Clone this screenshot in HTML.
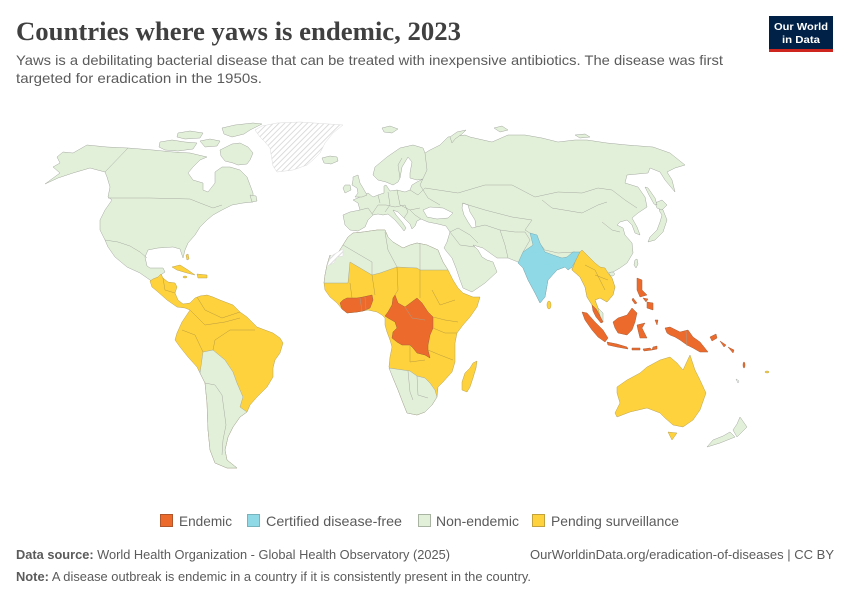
<!DOCTYPE html>
<html><head><meta charset="utf-8"><style>
html,body{margin:0;padding:0;background:#fff;}
svg{display:block;}
.g{fill:#e3f0d9;stroke:#a3a8a0;stroke-width:0.5;stroke-linejoin:round}
.y{fill:#fdd23c;stroke:#b9a25a;stroke-width:0.5;stroke-linejoin:round}
.o{fill:#ec6b2c;stroke:#a8603c;stroke-width:0.5;stroke-linejoin:round}
.b{fill:#8fd9e7;stroke:#7aa9b1;stroke-width:0.5;stroke-linejoin:round}
.w{fill:#fff;stroke:#a3a8a0;stroke-width:0.5;stroke-linejoin:round}
.l{fill:none;stroke:#9ea39b;stroke-width:0.45;stroke-linejoin:round}
.lo{fill:none;stroke:#b39442;stroke-width:0.45}
.h{fill:url(#hatch);stroke:#dcdcdc;stroke-width:0.5}
</style></head><body>
<svg width="850" height="600" viewBox="0 0 850 600" xmlns="http://www.w3.org/2000/svg">
<defs>
<pattern id="hatch" patternUnits="userSpaceOnUse" width="4" height="4" patternTransform="rotate(45)">
<rect width="4" height="4" fill="#fff"/><line x1="0" y1="0" x2="0" y2="4" stroke="#d4d4d4" stroke-width="1.6"/>
</pattern>
</defs>

<!-- Header -->
<text x="16" y="40" font-family="Liberation Serif, serif" font-weight="700" font-size="26" fill="#404040" textLength="445" lengthAdjust="spacingAndGlyphs">Countries where yaws is endemic, 2023</text>
<text x="16" y="65" font-family="Liberation Sans, sans-serif" font-size="14" fill="#5b5b5b" textLength="707" lengthAdjust="spacingAndGlyphs">Yaws is a debilitating bacterial disease that can be treated with inexpensive antibiotics. The disease was first</text>
<text x="16" y="83" font-family="Liberation Sans, sans-serif" font-size="14" fill="#5b5b5b" textLength="246" lengthAdjust="spacingAndGlyphs">targeted for eradication in the 1950s.</text>

<!-- Logo -->
<rect x="769" y="16" width="64" height="36" fill="#002147"/>
<rect x="769" y="49" width="64" height="3" fill="#ce261e"/>
<text x="801" y="30" text-anchor="middle" font-family="Liberation Sans, sans-serif" font-weight="700" font-size="10.5" fill="#fff" textLength="54" lengthAdjust="spacingAndGlyphs">Our World</text>
<text x="801" y="43" text-anchor="middle" font-family="Liberation Sans, sans-serif" font-weight="700" font-size="10.5" fill="#fff" textLength="38" lengthAdjust="spacingAndGlyphs">in Data</text>

<!-- MAP -->
<!-- North America -->
<polygon class="g" points="45,184 58,178 73,173 90,168 105,172 107,177 110,187 108,197 112,200 105,210 100,220 100,230 105,240 108,247 115,257 127,267 140,273 150,280 153,281 158,277 162,274 165,272 163,268 158,268 150,268 147,266 145,257 148,250 158,248 173,247 180,249 183,258 185,250 188,243 195,235 200,227 207,220 213,215 222,210 232,205 243,203 253,202 253,193 250,185 247,177 240,170 230,167 222,167 215,172 215,183 208,192 203,190 203,183 193,180 188,173 193,167 200,160 207,157 190,153 173,152 153,150 128,148 107,147 87,145 73,153 63,152 57,157 60,163 53,167 60,173"/>
<polygon class="g" points="220,150 232,144 240,143 248,147 253,153 250,160 247,164 238,165 233,163 225,161 221,156"/>
<polygon class="g" points="222,128 235,125 253,123 262,124 250,130 244,134 232,137 224,134"/>
<polygon class="g" points="178,133 190,131 203,133 200,138 185,139 177,137"/>
<polygon class="g" points="160,142 172,140 185,142 197,143 193,149 178,151 165,150 159,147"/>
<polygon class="g" points="200,141 210,139 220,141 217,146 205,147"/>
<polygon class="g" points="250,195 256,196 257,201 252,202"/>
<polyline class="l" points="128,148 105,172"/>
<polyline class="l" points="108,198 150,198 190,199 200,203 213,208 222,205"/>
<polyline class="l" points="105,240 118,242 130,246 140,252 147,258"/>

<!-- Greenland -->
<polygon class="h" points="255,130 262,126 277,123 300,122 343,125 333,133 325,143 320,153 313,160 307,165 293,170 277,172 273,166 272,160 270,148 265,142 260,137"/>
<!-- Iceland -->
<polygon class="g" points="322,158 330,156 337,157 338,161 331,164 324,163"/>

<!-- Central & South America -->
<polygon class="y" points="150,281 153,279 158,277 161,274 163,278 168,282 175,283 177,287 175,293 178,300 183,304 190,303 195,298 200,296 207,295 213,297 220,300 233,305 240,312 247,317 257,327 265,330 273,333 280,338 283,343 280,353 275,360 273,368 273,377 267,387 257,397 250,405 247,412 240,417 233,427 228,437 225,450 227,460 237,468 227,468 215,463 210,450 208,430 207,403 205,383 200,373 197,367 188,357 180,347 175,340 177,333 182,322 190,310 185,308 177,307 167,300 158,292 152,287"/>
<polygon class="g" points="200,373 203,352 213,350 225,360 233,372 237,383 243,397 240,407 247,412 240,417 233,427 228,437 225,450 227,460 237,468 227,468 215,463 210,450 208,430 207,403 205,383"/>
<polyline class="l" points="205,383 215,385 222,395 224,410 226,425 223,440 222,455"/>
<polyline class="lo" points="197,297 205,310 222,318 240,312"/>
<polyline class="lo" points="190,310 205,325 225,322 240,318"/>
<polyline class="lo" points="182,330 195,335 203,352"/>
<polyline class="lo" points="213,350 215,340 230,330 255,330"/>
<polyline class="lo" points="163,278 165,290 175,293"/>
<!-- Caribbean -->
<polygon class="y" points="172,267 180,265 188,270 195,275 187,273 177,270"/>
<polygon class="y" points="197,274 207,275 207,278 198,278"/>
<ellipse class="y" cx="185" cy="277" rx="2" ry="1"/>
<polygon class="y" points="186,255 188,254 189,259 187,260"/>

<!-- Africa -->
<polygon class="y" points="330,255 327,265 325,275 324,283 325,290 330,297 337,303 342,309 347,313 357,312 368,310 377,312 382,315 385,318 385,325 387,332 390,340 392,347 390,357 389,367 393,378 398,390 403,403 407,413 417,415 425,412 432,405 437,397 438,387 443,382 452,372 455,362 455,353 455,343 457,333 463,325 470,317 477,307 480,297 473,297 463,293 458,288 453,280 448,270 443,262 440,255 438,250 427,245 417,243 410,245 403,248 393,242 388,237 385,230 377,230 363,232 353,233 348,237 343,245 338,253 333,258"/>
<polygon class="g" points="330,255 327,265 325,275 324,283 337,283 348,283 350,262 372,275 380,273 397,267 417,268 420,270 448,270 443,262 440,255 438,250 427,245 417,243 410,245 403,248 393,242 388,237 385,230 377,230 363,232 353,233 348,237 343,245 338,253 333,258"/>
<polygon class="h" points="331,256 338,252 343,249 343,256 337,257 334,263 327,266"/>
<polyline class="l" points="343,245 360,255 372,262 372,275"/>
<polyline class="l" points="385,232 388,250 397,267"/>
<polyline class="l" points="420,243 420,270"/>
<polygon class="g" points="389,368 410,371 417,376 425,378 430,383 435,390 437,397 432,405 425,412 417,415 407,413 403,403 398,390 393,378"/>
<polyline class="l" points="408,371 410,392 413,400"/>
<polyline class="l" points="417,376 418,395 428,398"/>
<polygon class="o" points="340,303 343,300 347,298 357,298 363,297 372,295 373,300 370,308 363,311 357,312 347,313 342,309"/>
<polygon class="o" points="395,295 398,303 405,307 417,298 422,303 428,312 433,317 433,328 430,335 428,345 428,350 430,358 425,355 417,353 413,348 410,345 402,345 397,342 392,338 393,332 397,328 395,322 388,318 385,316 388,312 392,305 393,298"/>
<polyline class="l" points="360,298 362,311"/>
<polyline class="l" points="365,297 366,310"/>
<polyline class="l" points="405,307 412,318 425,320"/>
<polyline class="lo" points="350,283 352,298"/>
<polyline class="lo" points="372,275 375,295"/>
<polyline class="lo" points="397,267 398,290 395,295"/>
<polyline class="lo" points="420,270 420,298"/>
<polyline class="lo" points="432,290 440,305 455,300"/>
<polyline class="lo" points="433,317 445,320 458,322"/>
<polyline class="lo" points="433,328 445,333 457,333"/>
<polyline class="lo" points="428,350 440,355 453,360"/>
<polyline class="lo" points="410,345 410,362 425,360"/>
<polygon class="y" points="473,363 477,361 476,368 473,378 470,387 467,392 462,390 462,382 465,373 470,368"/>

<!-- Eurasia -->
<polygon class="g" points="343,215 345,225 350,230 358,231 365,227 368,220 373,215 378,214 383,215 388,214 395,220 401,227 404,231 406,228 402,222 396,215 393,210 398,212 404,218 410,224 412,229 415,226 417,221 421,219 428,222 438,224 446,226 450,232 447,242 444,248 447,252 452,258 456,268 460,280 463,288 472,292 485,283 497,272 493,262 487,260 482,257 478,250 475,247 473,245 483,248 497,258 508,258 518,262 523,268 528,280 535,293 540,303 545,297 548,280 557,270 565,267 568,270 572,267 572,270 580,277 585,287 587,297 592,305 595,312 600,318 603,322 603,313 598,308 595,300 600,298 607,302 613,295 615,287 612,278 608,273 613,272 620,268 627,263 633,253 632,243 625,235 623,228 617,225 620,222 627,220 632,225 635,233 640,235 637,227 632,218 638,213 647,207 645,197 638,187 625,183 627,175 648,173 650,168 660,172 665,180 675,192 672,180 667,172 675,168 685,165 670,153 653,147 627,145 607,143 587,140 575,140 558,142 542,138 525,135 508,135 492,142 470,137 465,135 448,137 440,145 430,150 425,153 423,148 413,145 400,148 387,157 375,167 373,175 378,180 386,182 393,185 398,182 400,178 402,167 408,157 412,162 410,173 410,178 417,180 423,179 417,182 412,185 410,190 405,192 397,190 390,191 386,185 384,186 384,193 378,195 373,197 368,193 360,197 353,200 358,203 360,210 350,212"/>
<polygon class="w" points="423,210 430,207 443,208 453,213 448,218 437,219 427,217"/>
<polygon class="w" points="463,203 468,205 470,212 475,220 476,227 472,228 468,222 464,215 462,208"/>
<!-- Eurasia borders -->
<polyline class="l" points="425,153 427,170 420,185 428,198 440,205"/>
<polyline class="l" points="388,192 390,205 385,212"/>
<polyline class="l" points="397,190 400,205 410,210 420,208"/>
<polyline class="l" points="372,214 378,205 386,205 395,207 405,205"/>
<polyline class="l" points="360,210 368,208 373,215"/>
<polyline class="l" points="410,190 418,195 425,188"/>
<polyline class="l" points="400,178 398,165 402,158"/>
<polyline class="l" points="405,205 408,212 404,218"/>
<polyline class="l" points="410,210 415,215 421,219"/>
<polyline class="l" points="378,195 380,203"/>
<polyline class="l" points="425,188 458,193 485,185 512,185 535,197 558,192 582,193 598,188 612,190 625,200 637,208"/>
<polyline class="l" points="542,200 552,208 582,213 598,205 607,202"/>
<polyline class="l" points="462,203 485,210 512,217 532,220"/>
<polyline class="l" points="532,220 525,230 533,235 545,250 558,253 575,252"/>
<polyline class="l" points="450,232 458,228 470,235 478,243"/>
<polyline class="l" points="476,227 485,225 500,230 515,232 525,232 530,240 523,252"/>
<polyline class="l" points="500,230 505,245 508,258"/>
<polyline class="l" points="450,232 460,245 475,247"/>
<polyline class="l" points="602,222 612,230 620,232"/>
<!-- Europe islands -->
<polygon class="g" points="353,177 358,175 360,183 363,188 367,195 362,197 355,197 358,193 357,188 352,185 353,180"/>
<polygon class="g" points="345,185 350,185 351,190 345,193 343,188"/>
<polygon class="g" points="382,128 390,126 398,129 392,133 384,132"/>
<polygon class="g" points="450,137 457,132 466,130 462,134 455,139 452,143"/>
<polygon class="g" points="494,128 502,126 508,130 500,132"/>
<polygon class="g" points="575,135 585,134 590,137 580,138"/>
<!-- East Asia islands -->
<polygon class="g" points="648,242 655,240 663,232 667,220 663,210 658,205 660,212 662,215 660,222 657,230 650,237"/>
<polygon class="g" points="655,203 662,200 667,205 662,210 657,208"/>
<polygon class="g" points="645,187 648,188 655,198 657,205 654,204 649,195"/>
<polygon class="g" points="635,260 637,259 638,264 636,268 634,265"/>
<ellipse class="g" cx="612" cy="274" rx="2.5" ry="2"/>

<!-- India (blue) -->
<polygon class="b" points="530,233 533,245 523,252 518,263 523,268 528,280 535,293 540,303 545,297 548,280 557,270 565,267 568,270 572,267 575,262 580,252 573,252 567,257 562,258 553,255 545,252 540,243 537,235"/>
<ellipse class="y" cx="549" cy="305" rx="2" ry="4"/>

<!-- SE Asia -->
<polygon class="y" points="580,252 575,262 572,270 580,277 585,287 587,297 592,305 597,310 600,316 598,308 595,300 600,298 607,302 613,295 615,287 612,278 608,273 605,268 600,267 595,263 587,255 582,250"/>
<polyline class="lo" points="585,265 595,270 600,280 605,290"/>
<polyline class="lo" points="595,275 608,280"/>
<polygon class="o" points="592,305 596,309 600,316 603,322 601,323 596,317 593,311"/>

<!-- Indonesia / Philippines / PNG -->
<polygon class="o" points="582,312 587,313 595,322 603,330 608,338 605,342 598,337 592,330 585,320"/>
<polygon class="o" points="607,342 617,344 627,347 628,349 617,347 608,345"/>
<polygon class="o" points="613,322 618,318 627,315 632,308 637,313 635,322 632,330 627,335 618,333 615,328"/>
<polygon class="o" points="637,325 645,323 642,328 647,338 640,338 638,330"/>
<polygon class="o" points="637,278 642,280 642,290 647,295 640,297 637,290"/>
<polygon class="o" points="647,302 653,303 653,310 647,308"/>
<polygon class="o" points="643,298 648,299 646,302"/>
<polygon class="o" points="633,298 637,303 635,304 632,300"/>
<polygon class="o" points="665,328 670,327 680,332 688,330 693,337 700,342 708,352 700,352 693,348 687,345 680,340 675,337 670,335 667,333"/>
<polyline class="l" points="686,331 687,346"/>
<polygon class="o" points="632,348 640,348 640,350 632,350"/>
<polygon class="o" points="643,349 650,348 652,350 644,351"/>
<polygon class="o" points="653,347 657,346 657,349 652,350"/>
<polygon class="o" points="655,320 658,320 657,325"/>
<polygon class="o" points="710,337 716,334 717,338 712,341"/>
<polygon class="o" points="720,341 726,345 724,347"/>
<polygon class="o" points="728,347 734,350 733,353"/>
<ellipse class="o" cx="744" cy="365" rx="1" ry="3"/>
<ellipse class="y" cx="767" cy="372" rx="2" ry="1"/>

<!-- Australia / NZ -->
<polygon class="y" points="617,387 627,380 640,373 647,367 660,360 670,357 677,363 683,370 690,355 695,370 700,380 706,393 700,410 693,420 683,427 673,425 665,418 660,413 647,408 630,412 617,417 615,413 620,403 617,393"/>
<polygon class="y" points="668,432 677,433 672,440"/>
<polygon class="g" points="740,417 747,427 737,437 733,430 737,424"/>
<polygon class="g" points="730,432 735,437 720,443 707,447 713,440 723,436"/>
<polygon class="w" points="736,379 739,381 738,383"/>

<!-- Legend -->
<g font-family="Liberation Sans, sans-serif" font-size="14" fill="#5b5b5b">
<rect x="160.5" y="514.5" width="12" height="12" fill="#ec6b2c" stroke="#b0562c"/>
<text x="179" y="526" textLength="53" lengthAdjust="spacingAndGlyphs">Endemic</text>
<rect x="247.5" y="514.5" width="12" height="12" fill="#8fd9e7" stroke="#76b3bd"/>
<text x="266" y="526" textLength="136" lengthAdjust="spacingAndGlyphs">Certified disease-free</text>
<rect x="418.5" y="514.5" width="12" height="12" fill="#e3f0d9" stroke="#a9b5a2"/>
<text x="436" y="526" textLength="83" lengthAdjust="spacingAndGlyphs">Non-endemic</text>
<rect x="532.5" y="514.5" width="12" height="12" fill="#fdd23c" stroke="#c2a23c"/>
<text x="551" y="526" textLength="128" lengthAdjust="spacingAndGlyphs">Pending surveillance</text>
</g>

<!-- Footer -->
<g font-family="Liberation Sans, sans-serif" font-size="12.5" fill="#5b5b5b">
<text x="16" y="559" textLength="434" lengthAdjust="spacingAndGlyphs"><tspan font-weight="700">Data source:</tspan> World Health Organization - Global Health Observatory (2025)</text>
<text x="834" y="559" text-anchor="end" textLength="304" lengthAdjust="spacingAndGlyphs">OurWorldinData.org/eradication-of-diseases | CC BY</text>
<text x="16" y="581" textLength="515" lengthAdjust="spacingAndGlyphs"><tspan font-weight="700">Note:</tspan> A disease outbreak is endemic in a country if it is consistently present in the country.</text>
</g>
</svg>
</body></html>
